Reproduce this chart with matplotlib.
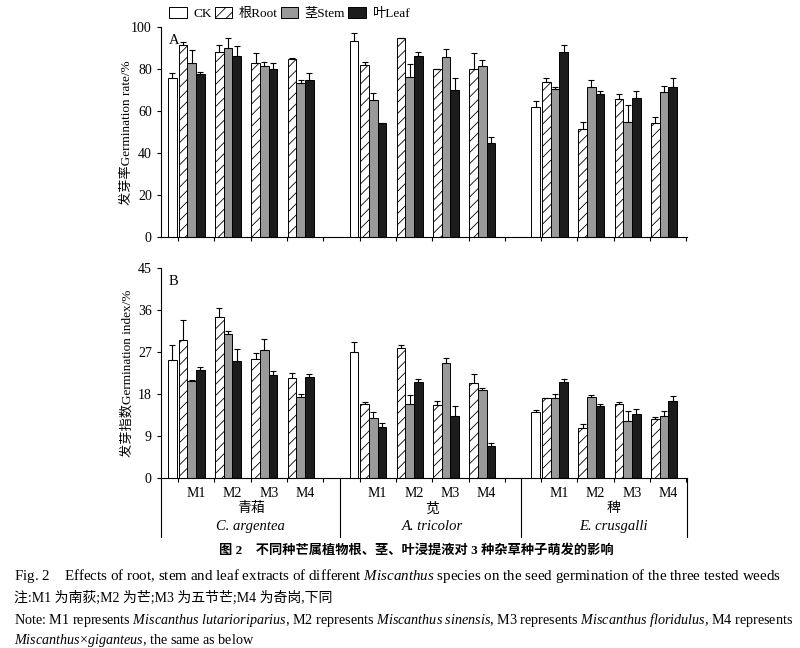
import matplotlib.pyplot as plt
import numpy as np
from matplotlib.patches import Patch

plt.rcParams['font.family'] = ['Liberation Serif', 'Noto Sans CJK SC']
plt.rcParams['mathtext.fontset'] = 'custom'
plt.rcParams['mathtext.rm'] = 'Liberation Serif'
plt.rcParams['mathtext.it'] = 'Liberation Serif:italic'
plt.rcParams['hatch.linewidth'] = 0.6
plt.rcParams['axes.linewidth'] = 0.8

weeds_cn = ['青葙', '苋', '稗']
weeds_en = ['C. argentea', 'A. tricolor', 'E. crusgalli']
species = ['M1', 'M2', 'M3', 'M4']
series = ['CK', '根Root', '茎Stem', '叶Leaf']

# germination rate (%), CK one per weed; root/stem/leaf: weed x (M1..M4)
rate_ck = [76, 93.5, 62]
rate_ck_err = [2.3, 3.8, 2.7]
rate_root = [[91.5, 88, 83, 85], [82, 95, 80, 80], [74, 51.5, 65.6, 54.6]]
rate_root_err = [[1.5, 3.4, 4.5, 0.4], [1.5, 0, 0, 7.5], [2, 3.3, 2.4, 2.7]]
rate_stem = [[83, 90, 81.5, 73.2], [65.5, 76.5, 85.6, 81.5], [70.5, 71.6, 55, 69]]
rate_stem_err = [[6, 5, 1.8, 1.8], [3.3, 6, 3.8, 3], [1, 3.2, 7.8, 3]]
rate_leaf = [[77.5, 86.5, 80, 75], [54.5, 86.5, 70, 45], [88.3, 68.4, 66.3, 71.6]]
rate_leaf_err = [[1.2, 4.5, 3, 3], [0, 1.7, 6, 2.5], [3, 1.3, 3.3, 4.3]]

# germination index (%)
index_ck = [25.4, 27, 14.1]
index_ck_err = [3.2, 2.1, 0.6]
index_root = [[29.7, 34.5, 25.6, 21.5], [16, 27.9, 15.6, 20.4], [17.1, 10.8, 15.9, 12.6]]
index_root_err = [[4.2, 1.9, 1.3, 1.1], [0.3, 0.6, 0.9, 1.9], [0.2, 0.9, 0.5, 0.6]]
index_stem = [[20.9, 31, 27.5, 17.4], [13, 16, 24.6, 19], [17.1, 17.5, 12.2, 13.4]]
index_stem_err = [[0.2, 0.6, 2.3, 0.7], [1.3, 1.8, 1.1, 0.4], [0.9, 0.4, 2.3, 1.1]]
index_leaf = [[23.1, 25.1, 22.2, 21.6], [11, 20.6, 13.4, 6.9], [20.7, 15.5, 13.8, 16.6]]
index_leaf_err = [[0.7, 2.5, 0.7, 0.8], [0.9, 0.6, 2.1, 0.6], [0.5, 0.4, 1.0, 1.0]]

colors = ['white', 'white', '#9a9a9a', '#1c1c1c']
hatches = [None, '///', None, None]
bw = 0.24


def draw(ax, ck, ck_err, vals, errs, top, step, ylabel, tag):
    ekw = dict(fmt='none', ecolor='black', elinewidth=0.8, capsize=2.2, capthick=0.8)
    for g in range(3):
        base = g * 5
        ax.bar(base - 0.15, ck[g], bw, color=colors[0], edgecolor='black', lw=0.7)
        ax.errorbar(base - 0.15, ck[g], yerr=[[0], [ck_err[g]]], **ekw)
        for s in range(3):
            x = base + np.arange(4) + 0.14 + bw * s
            ax.bar(x, vals[s][g], bw, color=colors[s + 1], hatch=hatches[s + 1],
                   edgecolor='black', lw=0.7)
            ax.errorbar(x, vals[s][g], yerr=[np.zeros(4), errs[s][g]], **ekw)
    ax.set_xlim(-0.47, 14.02)
    ax.set_ylim(0, top)
    ax.set_yticks(np.arange(0, top + 1, step))
    ax.set_xticks(np.arange(15))
    ax.set_xticklabels([])
    ax.tick_params(axis='both', direction='out', length=3, width=0.8, labelsize=10)
    ax.spines['top'].set_visible(False)
    ax.spines['right'].set_visible(False)
    ax.set_ylabel(ylabel, fontsize=9.5)
    ax.yaxis.set_label_coords(-0.052, 0.5)
    ax.text(0.015, 0.97, tag, transform=ax.transAxes, fontsize=10.5, va='top')


fig = plt.figure(figsize=(8, 6.48), dpi=100)
axA = fig.add_axes([0.201, 0.634, 0.658, 0.324])
axB = fig.add_axes([0.201, 0.262, 0.658, 0.324])

draw(axA, rate_ck, rate_ck_err, [rate_root, rate_stem, rate_leaf],
     [rate_root_err, rate_stem_err, rate_leaf_err], 100, 20, '发芽率Germination rate/%', 'A')
draw(axB, index_ck, index_ck_err, [index_root, index_stem, index_leaf],
     [index_root_err, index_stem_err, index_leaf_err], 45, 9, '发芽指数Germination index/%', 'B')

# M labels and group labels under panel B
trans = axB.get_xaxis_transform()
for g in range(3):
    for k, m in enumerate(species):
        axB.text(g * 5 + k + 0.5, -0.04, m, transform=trans, ha='center', va='top', fontsize=10)
    xc = g * 5 + 2.0
    axB.text(xc, -0.115, weeds_cn[g], transform=trans, ha='center', va='top', fontsize=10)
    axB.text(xc, -0.2, weeds_en[g], transform=trans, ha='center', va='top', fontsize=10.5,
             style='italic')
for xs in [-0.47, 4.45, 9.45, 14.02]:
    axB.plot([xs, xs], [0, -0.28], transform=trans, color='black', lw=0.8, clip_on=False)

handles = [Patch(facecolor=colors[i], edgecolor='black', hatch=hatches[i], lw=0.7)
           for i in range(4)]
fig.legend(handles, series, loc='upper left', bbox_to_anchor=(0.197, 1.008), ncol=4,
           frameon=False, fontsize=9.5, handlelength=1.3, handleheight=0.9,
           columnspacing=0.25, handletextpad=0.5)

fig.text(0.52, 0.151, '图 2    不同种芒属植物根、茎、叶浸提液对 3 种杂草种子萌发的影响',
         ha='center', va='center', fontsize=9.5, weight='bold')
fig.text(0.018, 0.111, r'Fig. 2    Effects of root, stem and leaf extracts of different $\it{Miscanthus}$ '
         r'species on the seed germination of the three tested weeds',
         ha='left', va='center', fontsize=10.8)
fig.text(0.018, 0.077, '注:M1 为南荻;M2 为芒;M3 为五节芒;M4 为奇岗,下同',
         ha='left', va='center', fontsize=10)
fig.text(0.018, 0.043, r'Note: M1 represents $\it{Miscanthus\ lutarioriparius}$, M2 represents '
         r'$\it{Miscanthus\ sinensis}$, M3 represents $\it{Miscanthus\ floridulus}$, M4 represents',
         ha='left', va='center', fontsize=10.2)
fig.text(0.018, 0.012, r'$\it{Miscanthus}$×$\it{giganteus}$, the same as below',
         ha='left', va='center', fontsize=10.2)

fig.savefig('out.png', dpi=100)
